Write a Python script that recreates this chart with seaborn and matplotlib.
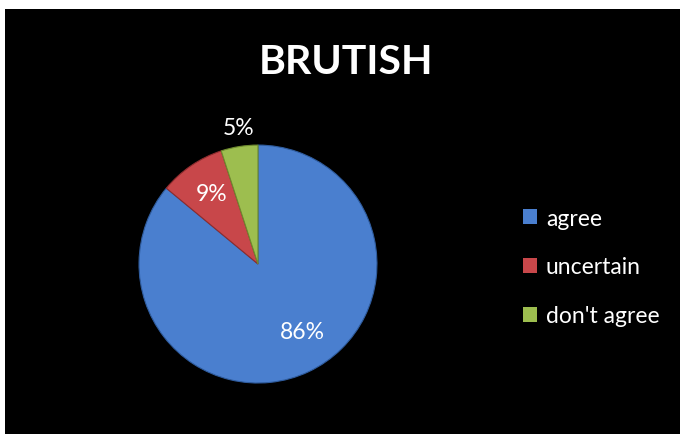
import matplotlib
matplotlib.use("Agg")
import matplotlib.pyplot as plt
from matplotlib.patches import Rectangle, Patch
import numpy as np
import seaborn as sns

# Survey responses
categories = ["agree", "uncertain", "don't agree"]
shares = [86, 9, 5]
title = "BRUTISH"

sns.set_theme(style="dark")
plt.rcParams["font.family"] = ["Lato", "DejaVu Sans"]

colors = ["#4A7FCF", "#C8474A", "#9DBE4F"]
edges = ["#2F5C9E", "#8E2C2E", "#6E8A2E"]

fig = plt.figure(figsize=(6.8, 4.35), dpi=100, facecolor="white")

# black chart area, kept behind everything else
bg = Rectangle((5 / 680, 0), 1, 425 / 435, transform=fig.transFigure,
               facecolor="black", edgecolor="none", zorder=-10)
fig.add_artist(bg)

ax = fig.add_axes([0.2044, 0.1172, 0.35, 0.547])
ax.set_facecolor("none")
ax.set_zorder(1)
wedges, _ = ax.pie(shares, colors=colors, startangle=90, counterclock=False,
                   wedgeprops=dict(linewidth=0.8))
for w, ec in zip(wedges, edges):
    w.set_edgecolor(ec)
ax.set_aspect("equal")
ax.set_xlim(-1, 1)
ax.set_ylim(-1, 1)
ax.axis("off")

# percentage labels: radius and angular nudge per slice
label_r = [0.68, 0.71, 1.16]
label_dtheta = [8, -1, -1]
for w, v, r, dt in zip(wedges, shares, label_r, label_dtheta):
    mid = np.deg2rad((w.theta1 + w.theta2) / 2 + dt)
    ax.text(r * np.cos(mid), r * np.sin(mid), f"{v}%", color="white",
            fontsize=16.5, ha="center", va="center", clip_on=False)

fig.text(346 / 680, 1 - 62 / 435, title, color="white", fontsize=29.5,
         fontweight="bold", ha="center", va="center")

handles = [Patch(facecolor=c, edgecolor="none") for c in colors]
leg = fig.legend(handles, categories, loc="center left",
                 bbox_to_anchor=(523 / 680, 1 - 268 / 435), frameon=False,
                 borderpad=0, borderaxespad=0,
                 fontsize=16.5, labelcolor="white", handlelength=0.6,
                 handleheight=0.6, handletextpad=0.4, labelspacing=1.22)

fig.savefig("out.png", dpi=100, facecolor="white")
